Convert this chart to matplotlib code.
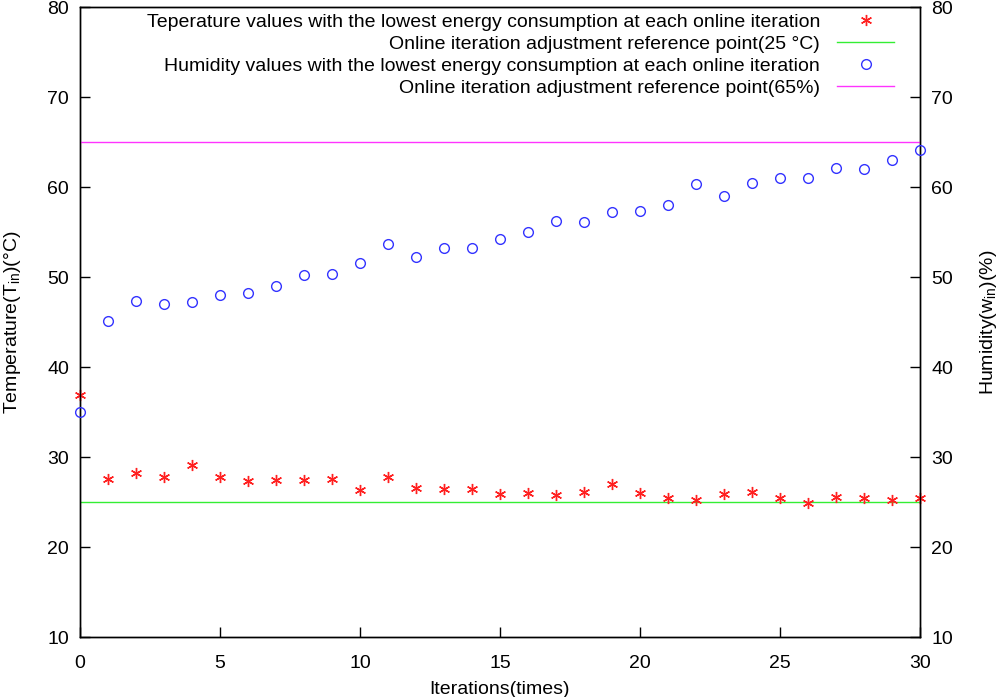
import matplotlib
matplotlib.use("Agg")
import matplotlib.pyplot as plt
from matplotlib import font_manager

iterations = list(range(31))
temperature = [36.96, 27.59, 28.22, 27.85, 29.18, 27.85, 27.41, 27.52, 27.52, 27.55,
               26.37, 27.81, 26.59, 26.52, 26.52, 25.89, 26.03, 25.78, 26.10, 27.07,
               26.00, 25.52, 25.22, 25.89, 26.14, 25.48, 24.92, 25.55, 25.48, 25.30, 25.44]
humidity = [35.0, 45.14, 47.33, 47.0, 47.22, 48.07, 48.26, 49.07, 50.26, 50.37,
            51.6, 53.7, 52.3, 53.3, 53.3, 54.3, 55.07, 56.3, 56.1, 57.3,
            57.37, 58.03, 60.37, 59.03, 60.5, 61.07, 61.07, 62.1, 62.0, 63.03, 64.2]
temp_ref = 25
hum_ref = 65

names = {f.name for f in font_manager.fontManager.ttflist}
fam = "Liberation Sans Narrow" if "Liberation Sans Narrow" in names else "Liberation Sans"
plt.rcParams['font.family'] = [fam, 'DejaVu Sans']
plt.rcParams['mathtext.fontset'] = 'custom'
plt.rcParams['mathtext.rm'] = fam
plt.rcParams['mathtext.it'] = fam

fig = plt.figure(figsize=(10, 6.97), dpi=100)
ax = fig.add_axes([0.08, 0.0857, 0.84, 0.9038])
ax2 = ax.twinx()

fs = 14
asterisk = (6, 2, 0)
h1, = ax.plot(iterations, temperature, linestyle='none', marker=asterisk, markersize=8,
              markeredgecolor='#ff2020', markeredgewidth=1.0, color='#ff2020',
              label='Teperature values with the lowest energy consumption at each online iteration', clip_on=False, zorder=5)
h2 = ax.axhline(temp_ref, color='#33ee33', lw=1.0,
                label='Online iteration adjustment reference point(25 °C)')
h3, = ax2.plot(iterations, humidity, linestyle='none', marker='o', markersize=7,
               markerfacecolor='none', markeredgecolor='#3333ff', markeredgewidth=1.0,
               label='Humidity values with the lowest energy consumption at each online iteration', clip_on=False, zorder=5)
h4 = ax2.axhline(hum_ref, color='#ff33ff', lw=1.0,
                 label='Online iteration adjustment reference point(65%)')

for a in (ax, ax2):
    a.set_xlim(0, 30)
    a.set_ylim(10, 80)
    a.set_yticks(range(10, 81, 10))
    a.tick_params(direction='in', length=7, width=1, labelsize=fs)
    for s in a.spines.values():
        s.set_linewidth(1.0)
ax.set_xticks(range(0, 31, 5))
ax.tick_params(axis='x', pad=13)
ax.tick_params(axis='y', pad=8)
ax2.tick_params(axis='y', pad=8)

ax.set_xlabel('Iterations(times)', fontsize=fs, labelpad=6)
ax.set_ylabel('Temperature(T$_{\\mathrm{in}}$)(°C)', fontsize=fs, labelpad=17)
ax2.set_ylabel('Humidity(w$_{\\mathrm{in}}$)(%)', fontsize=fs, labelpad=18, rotation=90)

leg = ax2.legend(handles=[h1, h2, h3, h4], loc='upper right', bbox_to_anchor=(0.985, 1.012),
                 frameon=False, markerfirst=False, fontsize=fs, handlelength=2.9,
                 handletextpad=0.9, labelspacing=0.22, borderaxespad=0.3)
for t in leg.get_texts():
    t.set_ha('right')
leg._legend_box.align = "right"

fig.savefig('out.png', dpi=100)
